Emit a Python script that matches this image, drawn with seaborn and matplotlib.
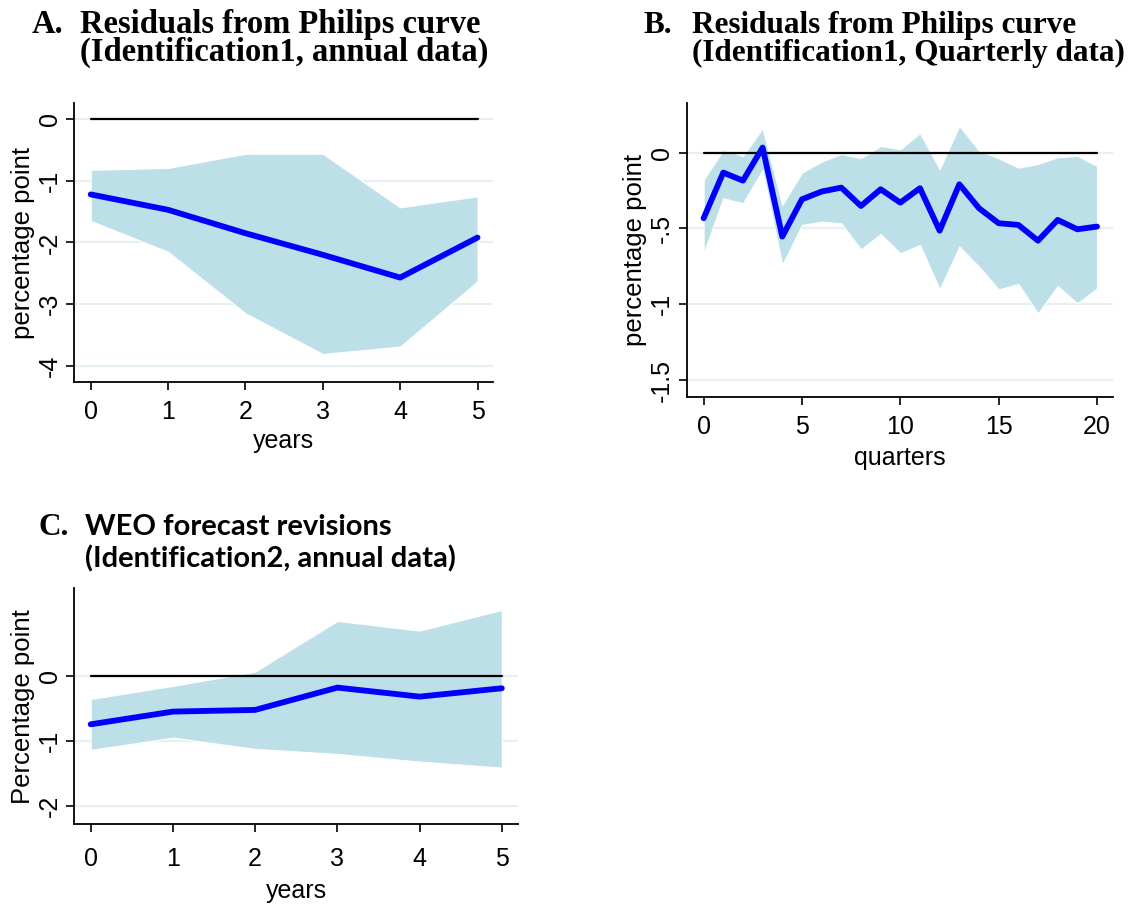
"""
Impulse responses of inflation to the identified shocks (three panels).
Writes out.png.
"""

import matplotlib
matplotlib.use("Agg")
import matplotlib.pyplot as plt
import pandas as pd
import seaborn as sns

# --- DATA ---
years = [0, 1, 2, 3, 4, 5]
a_mean = [-1.22, -1.47, -1.85, -2.20, -2.57, -1.92]
a_upper = [-0.82, -0.79, -0.56, -0.56, -1.43, -1.25]
a_lower = [-1.65, -2.15, -3.15, -3.81, -3.69, -2.63]

quarters = list(range(21))
b_mean = [-0.433, -0.132, -0.185, 0.033, -0.554, -0.308, -0.257, -0.231, -0.352, -0.242,
          -0.330, -0.235, -0.515, -0.209, -0.367, -0.466, -0.477, -0.581, -0.444, -0.506,
          -0.488]
b_upper = [-0.18, 0.018, -0.022, 0.16, -0.345, -0.132, -0.059, -0.009, -0.037, 0.044,
           0.022, 0.128, -0.11, 0.176, 0.013, -0.037, -0.099, -0.075, -0.031, -0.022,
           -0.088]
b_lower = [-0.664, -0.301, -0.334, -0.114, -0.741, -0.477, -0.455, -0.466, -0.638, -0.537,
           -0.664, -0.609, -0.902, -0.620, -0.752, -0.902, -0.867, -1.06, -0.88, -0.994,
           -0.895]

c_mean = [-0.746, -0.55, -0.524, -0.18, -0.319, -0.19]
c_upper = [-0.355, -0.154, 0.067, 0.848, 0.699, 1.018]
c_lower = [-1.141, -0.951, -1.126, -1.203, -1.321, -1.414]

a_yticks = [0, -1, -2, -3, -4]
a_yticklabels = ["0", "-1", "-2", "-3", "-4"]
b_yticks = [0, -0.5, -1, -1.5]
b_yticklabels = ["0", "-.5", "-1", "-1.5"]
b_xticks = [0, 5, 10, 15, 20]
c_yticks = [0, -1, -2]
c_yticklabels = ["0", "-1", "-2"]

# --- STYLE ---
BAND = "#bddfe8"
LINE = "#0000ff"
GRID = "#e6f0f2"
SANS = "Liberation Sans"
SERIF = "Liberation Serif"
FS = 18

sns.set_theme(style="white")
plt.rcParams["font.family"] = [SANS, "DejaVu Sans"]


def draw_panel(ax, x, mean, upper, lower, xlim, ylim, xticks, yticks, yticklabels,
               xlabel, ylabel, xpad=6, xlabelpad=3):
    for y in yticks:
        ax.axhline(y, color=GRID, lw=1.6, zorder=0)
    ax.fill_between(x, lower, upper, color=BAND, edgecolor="white", lw=0.8, zorder=1)
    zero = pd.DataFrame({"x": [x[0], x[-1]], "y": [0, 0]})
    sns.lineplot(data=zero, x="x", y="y", color="black", lw=1.6, ax=ax, zorder=2)
    df = pd.DataFrame({"x": x, "y": mean})
    sns.lineplot(data=df, x="x", y="y", color=LINE, lw=4.2, ax=ax, zorder=3,
                 solid_capstyle="round", solid_joinstyle="round")

    ax.set_xlim(*xlim)
    ax.set_ylim(*ylim)
    ax.set_xticks(xticks)
    ax.set_yticks(yticks)
    ax.set_yticklabels(yticklabels, rotation=90, va="center")
    ax.set_xlabel(xlabel, fontsize=FS, labelpad=xlabelpad, color="black")
    ax.set_ylabel(ylabel, fontsize=18.5, labelpad=2, color="black")
    ax.tick_params(axis="both", which="major", labelsize=FS, length=6, width=1.2,
                   color="black", labelcolor="black", left=True, bottom=True)
    ax.tick_params(axis="x", pad=xpad)
    ax.tick_params(axis="y", pad=3)
    for side in ("top", "right"):
        ax.spines[side].set_visible(False)
    for side in ("left", "bottom"):
        ax.spines[side].set_color("black")
        ax.spines[side].set_linewidth(1.3)


fig = plt.figure(figsize=(11.42, 9.07), dpi=100)
ax_a = fig.add_axes([0.0648, 0.5785, 0.3669, 0.308])
ax_b = fig.add_axes([0.6013, 0.5623, 0.3736, 0.3238])
ax_c = fig.add_axes([0.0648, 0.0912, 0.3890, 0.2602])

draw_panel(ax_a, years, a_mean, a_upper, a_lower, (-0.216, 5.2), (-4.27, 0.265),
           years, a_yticks, a_yticklabels, "years", "percentage point",
           xpad=7, xlabelpad=3)
draw_panel(ax_b, quarters, b_mean, b_upper, b_lower, (-0.86, 20.83), (-1.612, 0.325),
           b_xticks, b_yticks, b_yticklabels, "quarters", "percentage point",
           xpad=7, xlabelpad=5)
draw_panel(ax_c, years, c_mean, c_upper, c_lower, (-0.203, 5.2), (-2.288, 1.352),
           years, c_yticks, c_yticklabels, "years", "Percentage point",
           xpad=10, xlabelpad=6)

# --- panel titles ---
W, H = 1142, 907


def ftext(px, py, s, **kw):
    fig.text(px / W, 1 - py / H, s, va="baseline", ha="left", color="black", **kw)


serif_a = dict(family=SERIF, weight="bold", fontsize=23.5)
serif_b = dict(family=SERIF, weight="bold", fontsize=22.5)
ftext(32, 32.7, "A.", **serif_a)
ftext(80, 32.7, "Residuals from Philips curve", **serif_a)
ftext(80, 60.7, "(Identification1, annual data)", **serif_a)
ftext(643, 32.7, "B.", **serif_b)
ftext(692, 32.7, "Residuals from Philips curve", **serif_b)
ftext(692, 60.7, "(Identification1, Quarterly data)", **serif_b)
ftext(38, 535, "C.", **serif_b)
sans = dict(family="Lato", weight="bold", fontsize=21)
ftext(85, 535, "WEO forecast revisions", **sans)
ftext(85, 567, "(Identification2, annual data)", **sans)

fig.savefig("out.png", dpi=100)
print("saved out.png")
